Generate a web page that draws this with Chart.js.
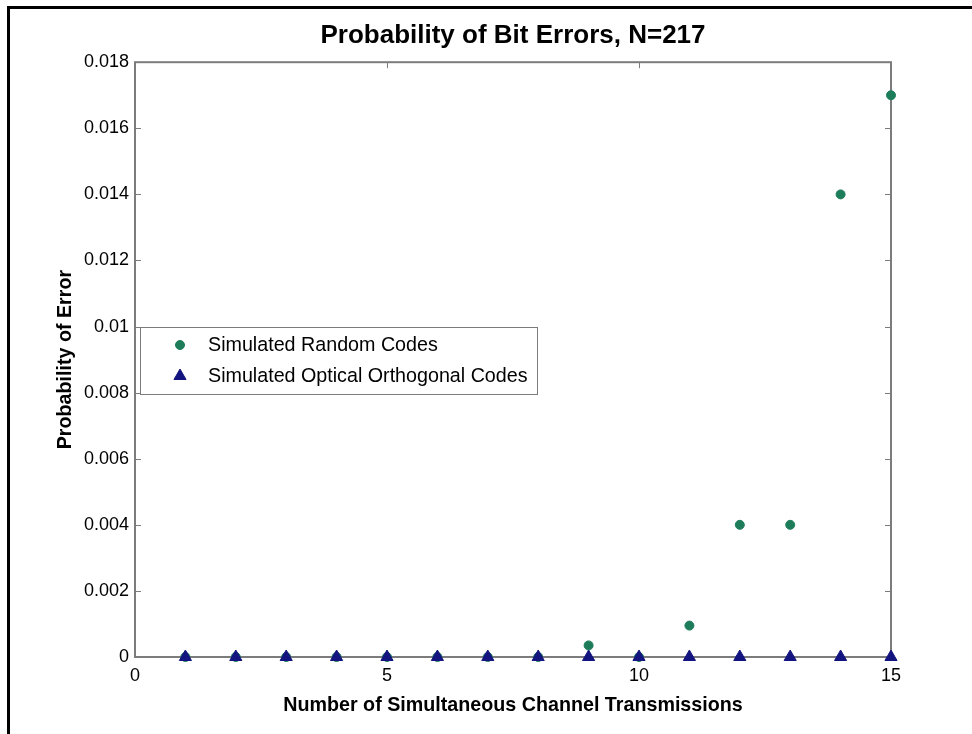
<!DOCTYPE html>
<html>
<head>
<meta charset="utf-8">
<script src="https://cdn.jsdelivr.net/npm/chart.js@4.4.0/dist/chart.umd.min.js"></script>
<style>
  html, body { margin: 0; padding: 0; background: #ffffff; }
  #wrap { position: relative; width: 972px; height: 734px; }
  #frame {
    position: absolute; left: 7px; top: 6px; right: -10px; bottom: -10px;
    border-left: 3px solid #000; border-top: 3px solid #000;
    pointer-events: none;
  }
</style>
</head>
<body>
<div id="wrap">
  <canvas id="berChart" width="972" height="734"></canvas>
  <div id="frame"></div>
</div>
<script>
// === Chart data ===
const channels = [1, 2, 3, 4, 5, 6, 7, 8, 9, 10, 11, 12, 13, 14, 15];
const randomCodes = [0, 0, 0, 0, 0, 0, 0, 0, 0.00035, 0, 0.00095, 0.004, 0.004, 0.014, 0.017];
const opticalCodes = [0, 0, 0, 0, 0, 0, 0, 0, 0, 0, 0, 0, 0, 0, 0];
const xTicks = [0, 5, 10, 15];
const xTickLabels = ["0", "5", "10", "15"];
const yTicks = [0, 0.002, 0.004, 0.006, 0.008, 0.01, 0.012, 0.014, 0.016, 0.018];
const yTickLabels = ["0", "0.002", "0.004", "0.006", "0.008", "0.01", "0.012", "0.014", "0.016", "0.018"];

const FONT = "'Liberation Sans', Arial, Helvetica, sans-serif";
const AXIS_GREY = "#7c7c7c";

// === Box around plot with inward ticks (MATLAB style) ===
const axesBoxPlugin = {
  id: "axesBox",
  beforeDatasetsDraw(chart) {
    const { ctx, chartArea: a, scales } = chart;
    ctx.save();
    ctx.strokeStyle = AXIS_GREY;
    ctx.lineWidth = 1;
    const len = 6;
    ctx.beginPath();
    yTicks.forEach((v) => {
      const y = Math.round(scales.y.getPixelForValue(v)) + 0.5;
      ctx.moveTo(a.left, y); ctx.lineTo(a.left + len, y);
      ctx.moveTo(a.right, y); ctx.lineTo(a.right - len, y);
    });
    xTicks.forEach((v) => {
      const x = Math.round(scales.x.getPixelForValue(v)) + 0.5;
      ctx.moveTo(x, a.bottom); ctx.lineTo(x, a.bottom - len);
      ctx.moveTo(x, a.top); ctx.lineTo(x, a.top + len);
    });
    ctx.stroke();
    ctx.lineWidth = 2;
    ctx.strokeRect(a.left, a.top, a.right - a.left, a.bottom - a.top);
    ctx.restore();
  },
};

// === Legend box drawn inside the plot, left side ===
const boxLegendPlugin = {
  id: "boxLegend",
  afterDraw(chart) {
    const { ctx } = chart;
    const bx = 140, by = 327, bw = 397, bh = 67;
    ctx.save();
    ctx.fillStyle = "#ffffff";
    ctx.fillRect(bx, by, bw, bh);
    ctx.strokeStyle = AXIS_GREY;
    ctx.lineWidth = 1;
    ctx.strokeRect(bx + 0.5, by + 0.5, bw, bh);
    ctx.font = "19.7px " + FONT;
    ctx.textBaseline = "middle";
    chart.data.datasets.forEach((ds, i) => {
      const y = by + 18 + i * 31;
      ctx.fillStyle = ds.backgroundColor;
      ctx.strokeStyle = ds.borderColor;
      ctx.lineWidth = 1;
      Chart.helpers.drawPoint(ctx, { pointStyle: ds.pointStyle, radius: ds.pointRadius, borderWidth: 1 }, bx + 40, y);
      ctx.fillStyle = "#000000";
      ctx.fillText(ds.label, bx + 68, y + 1);
    });
    ctx.restore();
  },
};

const ctx = document.getElementById("berChart").getContext("2d");
new Chart(ctx, {
  type: "scatter",
  data: {
    datasets: [
      {
        label: "Simulated Random Codes",
        data: channels.map((c, i) => ({ x: c, y: randomCodes[i] })),
        pointStyle: "circle",
        pointRadius: 4.5,
        backgroundColor: "#1d7d5a",
        borderColor: "#1d7d5a",
        order: 1,
        clip: false,
      },
      {
        label: "Simulated Optical Orthogonal Codes",
        data: channels.map((c, i) => ({ x: c, y: opticalCodes[i] })),
        pointStyle: "triangle",
        pointRadius: 7,
        backgroundColor: "#141480",
        borderColor: "#141480",
        order: 0,
        clip: false,
      },
    ],
  },
  options: {
    responsive: false,
    animation: false,
    layout: { padding: { top: 10, left: 40, right: 81, bottom: 10 } },
    scales: {
      x: {
        type: "linear",
        min: 0,
        max: 15,
        afterBuildTicks: (scale) => { scale.ticks = xTicks.map((v) => ({ value: v })); },
        afterFit: (scale) => { scale.height = 67; },
        ticks: {
          color: "#000000",
          font: { family: FONT, size: 18 },
          padding: 8,
          callback: (v, i) => xTickLabels[i],
        },
        grid: { display: false, drawTicks: false },
        border: { display: false },
        title: {
          display: true,
          text: "Number of Simultaneous Channel Transmissions",
          color: "#000000",
          font: { family: FONT, size: 19.7, weight: "bold" },
          padding: { top: 0, bottom: 7 },
        },
      },
      y: {
        type: "linear",
        min: 0,
        max: 0.018,
        afterBuildTicks: (scale) => { scale.ticks = yTicks.map((v) => ({ value: v })); },
        afterFit: (scale) => { scale.width = 95; },
        ticks: {
          color: "#000000",
          font: { family: FONT, size: 18 },
          padding: 6,
          callback: (v, i) => yTickLabels[i],
        },
        grid: { display: false, drawTicks: false },
        border: { display: false },
        title: {
          display: true,
          text: "Probability of Error",
          color: "#000000",
          font: { family: FONT, size: 19.7, weight: "bold" },
          padding: { top: 14, bottom: 0 },
        },
      },
    },
    plugins: {
      legend: { display: false },
      tooltip: { enabled: false },
      title: {
        display: true,
        fullSize: false,
        text: "Probability of Bit Errors, N=217",
        color: "#000000",
        font: { family: FONT, size: 26, weight: "bold" },
        padding: { top: 10, bottom: 11 },
      },
    },
  },
  plugins: [axesBoxPlugin, boxLegendPlugin],
});
</script>
</body>
</html>
